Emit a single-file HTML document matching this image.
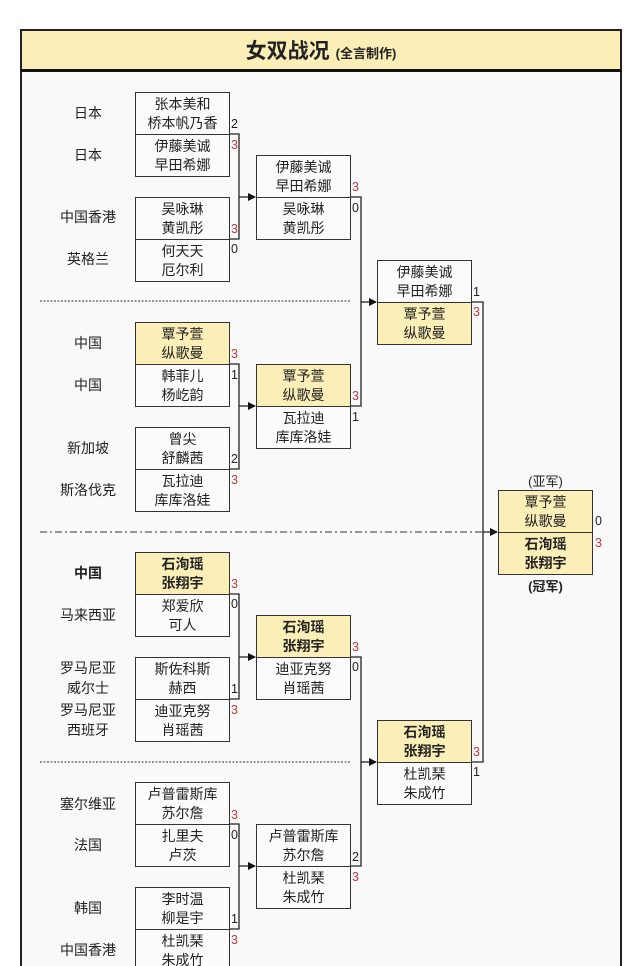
<!DOCTYPE html>
<html><head><meta charset="utf-8"><style>
*{margin:0;padding:0;box-sizing:border-box}
html,body{width:640px;height:966px;overflow:hidden;background:#fff}
body{font-family:"Liberation Sans","Noto Sans CJK SC",sans-serif;color:#222}
#wrap{position:relative;width:640px;height:966px;overflow:hidden}
#frame{position:absolute;left:20px;top:29px;width:602px;height:960px;border:2px solid #222;border-bottom:none;background:#f9f9f9}
#title{position:absolute;left:20px;top:29px;width:602px;height:43px;background:#fbeeb6;border:2px solid #222;border-bottom:3px solid #111;display:flex;align-items:center;justify-content:center}
#title b{font-size:21px;font-weight:bold}
#title span{font-size:13px;font-weight:bold;margin-left:6px;margin-top:4px}
.b{position:absolute;width:95px;height:43px;border:1.5px solid #333;background:#fbfbfb;font-size:14px;line-height:19px;text-align:center;padding-top:2px}
.y{background:#fbeeb6}
.bd{font-weight:bold}
.s{position:absolute;font-size:12.5px;line-height:14px}
.r{color:#c0393b}
.c{position:absolute;width:80px;left:48px;text-align:center;font-size:14px;line-height:20px}
</style></head><body><div id="wrap">
<div id="frame"></div>
<div id="title"><b>女双战况</b><span>(全言制作)</span></div>
<svg width="640" height="966" style="position:absolute;left:0;top:0">
<defs><marker id="a" markerWidth="8" markerHeight="8" refX="7" refY="4" orient="auto" markerUnits="userSpaceOnUse"><path d="M0,0 L8,4 L0,8z" fill="#111"/></marker></defs>
<g stroke="#222" stroke-width="1.3" fill="none">
<path d="M229,134H239V239H229"/><path d="M239,197H255" marker-end="url(#a)"/>
<path d="M229,364H239V469H229"/><path d="M239,406H255" marker-end="url(#a)"/>
<path d="M229,594H239V699H229"/><path d="M239,657H255" marker-end="url(#a)"/>
<path d="M229,824H239V929H229"/><path d="M239,866H255" marker-end="url(#a)"/>
<path d="M350,197H361V406H350"/><path d="M361,302H376" marker-end="url(#a)"/>
<path d="M350,657H361V866H350"/><path d="M361,762H376" marker-end="url(#a)"/>
<path d="M471,302H483V762H471"/><path d="M483,532H497" marker-end="url(#a)"/>
</g>
<g stroke="#333" stroke-width="1" fill="none">
<path d="M40,301H350" stroke-dasharray="2,1.5"/>
<path d="M40,532H495" stroke-dasharray="7,3,2,3"/>
<path d="M40,762H350" stroke-dasharray="2,1.5"/>
</g>
</svg>
<div class="b" style="left:135px;top:92px">张本美和<br>桥本帆乃香</div>
<div class="b" style="left:135px;top:134px">伊藤美诚<br>早田希娜</div>
<div class="b" style="left:135px;top:197px">吴咏琳<br>黄凯彤</div>
<div class="b" style="left:135px;top:239px">何天天<br>厄尔利</div>
<div class="b y" style="left:135px;top:322px">覃予萱<br>纵歌曼</div>
<div class="b" style="left:135px;top:364px">韩菲儿<br>杨屹韵</div>
<div class="b" style="left:135px;top:427px">曾尖<br>舒麟茜</div>
<div class="b" style="left:135px;top:469px">瓦拉迪<br>库库洛娃</div>
<div class="b y bd" style="left:135px;top:552px">石洵瑶<br>张翔宇</div>
<div class="b" style="left:135px;top:594px">郑爱欣<br>可人</div>
<div class="b" style="left:135px;top:657px">斯佐科斯<br>赫西</div>
<div class="b" style="left:135px;top:699px">迪亚克努<br>肖瑶茜</div>
<div class="b" style="left:135px;top:782px">卢普雷斯库<br>苏尔詹</div>
<div class="b" style="left:135px;top:824px">扎里夫<br>卢茨</div>
<div class="b" style="left:135px;top:887px">李时温<br>柳是宇</div>
<div class="b" style="left:135px;top:929px">杜凯琹<br>朱成竹</div>
<div class="b" style="left:256px;top:155px">伊藤美诚<br>早田希娜</div>
<div class="b" style="left:256px;top:197px">吴咏琳<br>黄凯彤</div>
<div class="b y" style="left:256px;top:364px">覃予萱<br>纵歌曼</div>
<div class="b" style="left:256px;top:406px">瓦拉迪<br>库库洛娃</div>
<div class="b y bd" style="left:256px;top:615px">石洵瑶<br>张翔宇</div>
<div class="b" style="left:256px;top:657px">迪亚克努<br>肖瑶茜</div>
<div class="b" style="left:256px;top:824px">卢普雷斯库<br>苏尔詹</div>
<div class="b" style="left:256px;top:866px">杜凯琹<br>朱成竹</div>
<div class="b" style="left:377px;top:260px">伊藤美诚<br>早田希娜</div>
<div class="b y" style="left:377px;top:302px">覃予萱<br>纵歌曼</div>
<div class="b y bd" style="left:377px;top:720px">石洵瑶<br>张翔宇</div>
<div class="b" style="left:377px;top:762px">杜凯琹<br>朱成竹</div>
<div class="b y" style="left:498px;top:490px">覃予萱<br>纵歌曼</div>
<div class="b y bd" style="left:498px;top:532px">石洵瑶<br>张翔宇</div>
<div style="position:absolute;left:498px;width:95px;top:471px;text-align:center;font-size:13px">(亚军)</div>
<div style="position:absolute;left:498px;width:95px;top:576px;text-align:center;font-size:13px;font-weight:bold">(冠军)</div>
<div class="s" style="left:231px;top:117px">2</div><div class="s r" style="left:231px;top:138px">3</div>
<div class="s r" style="left:231px;top:222px">3</div><div class="s" style="left:231px;top:242px">0</div>
<div class="s r" style="left:231px;top:347px">3</div><div class="s" style="left:231px;top:368px">1</div>
<div class="s" style="left:231px;top:452px">2</div><div class="s r" style="left:231px;top:473px">3</div>
<div class="s r" style="left:231px;top:577px">3</div><div class="s" style="left:231px;top:597px">0</div>
<div class="s" style="left:231px;top:682px">1</div><div class="s r" style="left:231px;top:703px">3</div>
<div class="s r" style="left:231px;top:808px">3</div><div class="s" style="left:231px;top:828px">0</div>
<div class="s" style="left:231px;top:912px">1</div><div class="s r" style="left:231px;top:933px">3</div>
<div class="s r" style="left:352px;top:180px">3</div><div class="s" style="left:352px;top:201px">0</div>
<div class="s r" style="left:352px;top:389px">3</div><div class="s" style="left:352px;top:410px">1</div>
<div class="s r" style="left:352px;top:640px">3</div><div class="s" style="left:352px;top:660px">0</div>
<div class="s" style="left:352px;top:850px">2</div><div class="s r" style="left:352px;top:870px">3</div>
<div class="s" style="left:473px;top:285px">1</div><div class="s r" style="left:473px;top:305px">3</div>
<div class="s r" style="left:473px;top:745px">3</div><div class="s" style="left:473px;top:765px">1</div>
<div class="s" style="left:595px;top:514px">0</div><div class="s r" style="left:595px;top:536px">3</div>
<div class="c" style="top:103px">日本</div>
<div class="c" style="top:145px">日本</div>
<div class="c" style="top:207px">中国香港</div>
<div class="c" style="top:249px">英格兰</div>
<div class="c" style="top:333px">中国</div>
<div class="c" style="top:375px">中国</div>
<div class="c" style="top:438px">新加坡</div>
<div class="c" style="top:480px">斯洛伐克</div>
<div class="c" style="top:563px;font-weight:bold">中国</div>
<div class="c" style="top:605px">马来西亚</div>
<div class="c" style="top:658px">罗马尼亚<br>威尔士</div>
<div class="c" style="top:700px">罗马尼亚<br>西班牙</div>
<div class="c" style="top:794px">塞尔维亚</div>
<div class="c" style="top:835px">法国</div>
<div class="c" style="top:898px">韩国</div>
<div class="c" style="top:940px">中国香港</div>
</div></body></html>
